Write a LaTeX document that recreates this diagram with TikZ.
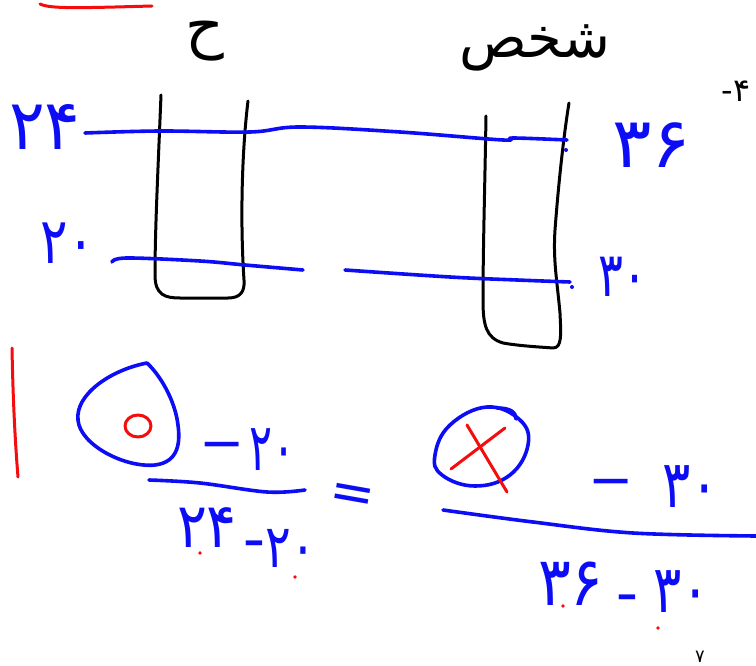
\documentclass[tikz,border=0pt]{standalone}
\usepackage{fontspec}
\usepackage{graphicx}
\usepackage{tikz}
\usetikzlibrary{calc}
\TeXXeTstate=1
\newfontfamily\arabicfont[Script=Arabic]{DejaVu Sans}
\newfontfamily\numfont{DejaVu Sans}
\definecolor{InkBlue}  {RGB}{ 12, 12, 245}
\definecolor{InkRed}   {RGB}{245, 12, 12}
\definecolor{InkBlack} {RGB}{  0,  0,  0}
\newcommand{\Narrow}[2][0.9]{\scalebox{#1}[1]{#2}}
\tikzset{
  pen/.style={line width=3pt, line cap=round, line join=round},
  bluepen/.style={pen, draw=InkBlue, line width=3.6pt},
  redpen/.style={pen, draw=InkRed},
  blackpen/.style={pen, draw=InkBlack},
  handnum/.style={text=InkBlue, inner sep=0pt,
    font=\numfont\fontsize{#1}{#1}\selectfont},
  handnum/.default=68,
  handword/.style={text=InkBlack, inner sep=0pt,
    font=\arabicfont\fontsize{#1}{#1}\selectfont},
  printed/.style={text=InkBlack, inner sep=0pt,
    font=\numfont\fontsize{#1}{#1}\selectfont},
}
\begin{document}
\begin{tikzpicture}[x=1pt, y=-1pt]
  \useasboundingbox (0,0) rectangle (756,666);
  \fill[white] (0,0) rectangle (756,666);
  % red marks
  \draw[redpen] (40,4) .. controls (50,9) and (80,8) .. (152,6);
  \draw[redpen] (12,348) .. controls (13,400) and (15,440) .. (18,477);
  % headings
  \node[handword=60] (headH) at (205,41) {\beginR ح\endR};
  \node[handword=56] (headS) at (535,48) {\beginR شخص\endR};
  \node[printed=32] (qnum) at (736,91) {-۴};
  % the two vessels
  \draw[blackpen] (161,95) .. controls (158,170) and (155,230) .. (155,275)
    .. controls (155,295) and (165,298) .. (180,298) -- (228,298)
    .. controls (240,298) and (245,292) .. (244,280)
    .. controls (240,220) and (242,150) .. (248,101);
  \draw[blackpen] (486,116) .. controls (485,180) and (483,250) .. (483,300)
    .. controls (483,325) and (486,338) .. (503,343)
    .. controls (520,346) and (540,347) .. (553,348)
    .. controls (562,348) and (561,335) .. (560,313)
    .. controls (557,280) and (553,260) .. (555,230)
    .. controls (558,190) and (563,140) .. (569,103);
  % blue levels
  \draw[bluepen] plot[smooth, tension=0.6] coordinates
    {(85,133) (160,131) (250,132) (300,127) (400,132) (503,140) (513,138) (567,140)};
  \fill[InkBlue] (566,150) circle (2);
  \draw[bluepen] plot[smooth, tension=0.6] coordinates
    {(112,262) (127,258) (200,261) (245,265) (303,270)};
  \draw[bluepen] plot[smooth, tension=0.6] coordinates
    {(345,270) (450,277) (517,280) (570,282)};
  \fill[InkBlue] (572,287) circle (2);
  \node[handnum=70, anchor=base] (lblTopL) at (45,150) {\Narrow[0.95]{۲۴}};
  \node[handnum=64, anchor=base] (lblBotL) at (68,264) {\Narrow[0.8]{۲۰}};
  \node[handnum=70, anchor=base] (lblTopR) at (652,168) {\Narrow[1.05]{۳۶}};
  \node[handnum=62, anchor=base] (lblBotR) at (623,297) {\Narrow[0.75]{۳۰}};
  % left fraction
  \draw[bluepen] (147,363) .. controls (110,370) and (75,395) .. (78,420)
    .. controls (80,445) and (125,468) .. (155,465)
    .. controls (180,462) and (180,440) .. (178,425)
    .. controls (175,400) and (160,375) .. (147,363);
  \draw[redpen] (138,426) ellipse [x radius=13, y radius=11];
  \node[handnum=54] (minusL) at (222,452) {−};
  \node[handnum=66, anchor=base] (numL) at (273,470) {\Narrow[0.65]{۲۰}};
  \draw[bluepen] plot[smooth, tension=0.6] coordinates
    {(149,480) (200,483) (267,492) (305,490)};
  \node[handnum=62, anchor=base] (denL1) at (207,547) {\Narrow{۲۴}};
  \node[handnum=58] (denLbar) at (254,551) {\Narrow[0.45]{−}};
  \node[handnum=60, anchor=base] (denL2) at (291,567) {\Narrow[0.8]{۲۰}};
  \fill[InkRed] (200,553) circle (1.8);
  \fill[InkRed] (295,577) circle (1.8);
  \node[handnum=54, rotate=-10] (eqsign) at (352,498) {=};
  % right fraction
  \draw[bluepen] plot[smooth cycle, tension=0.7] coordinates
    {(487,407) (520,420) (528,445) (510,475) (475,486) (442,475) (435,455) (450,425)};
  \draw[bluepen] (497,408) .. controls (510,408) and (516,412) .. (516,419);
  \draw[redpen] (467,425) -- (507,492);
  \draw[redpen] (451,469) -- (505,428);
  \node[handnum=54] (minusR) at (611,489) {−};
  \node[handnum=66, anchor=base] (numR) at (691,507) {\Narrow[0.8]{۳۰}};
  \draw[bluepen] plot[smooth, tension=0.6] coordinates
    {(443,510) (533,522) (633,533) (756,536)};
  \node[handnum=68, anchor=base] (denR1) at (571,605) {\Narrow{۳۶}};
  \node[handnum=58] (denRbar) at (627,605) {\Narrow[0.45]{−}};
  \node[handnum=66, anchor=base] (denR2) at (682,612) {\Narrow[0.8]{۳۰}};
  \fill[InkRed] (563,606) circle (1.8);
  \fill[InkRed] (658,628) circle (1.8);
  % page number
  \node[printed=18] (pagenum) at (700,657) {۷};
\end{tikzpicture}
\end{document}
